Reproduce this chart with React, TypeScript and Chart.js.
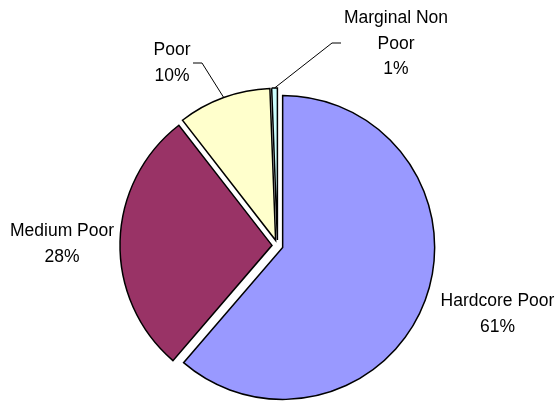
import React, { useEffect, useRef } from "react";
import { Chart, ArcElement, PieController } from "chart.js";

Chart.register(ArcElement, PieController);

// ---- data ----
const categories = ["Hardcore Poor", "Medium Poor", "Poor", "Marginal Non Poor"];
const shares = [61.3, 28.2, 9.9, 0.6];
const labelNameLines = [["Hardcore Poor"], ["Medium Poor"], ["Poor"], ["Marginal Non", "Poor"]];

// ---- style ----
const colors = ["#9999FF", "#993366", "#FFFFCC", "#CCFFFF"];
const EXPLODE = 5.5;
const FONT = '17.5px "Liberation Sans", Arial, sans-serif';
const LINE_GAP = 25.5;
// label text anchors: center x, first baseline y; leader: elbow points (null = none)
const labelPlacement = [
  { x: 497.5, y: 306, leader: null as null | number[][] },
  { x: 62, y: 236, leader: null as null | number[][] },
  { x: 172, y: 55, leader: [[193, 63], [202, 63]] },
  { x: 396, y: 23, leader: [[341, 43], [332, 43]] },
];

const explodePlugin = {
  id: "explode",
  afterDatasetUpdate(chart: any, args: any) {
    const meta = chart.getDatasetMeta(args.index);
    meta.data.forEach((arc: any) => {
      const mid = (arc.startAngle + arc.endAngle) / 2;
      arc.x += Math.cos(mid) * EXPLODE;
      arc.y += Math.sin(mid) * EXPLODE;
    });
  },
};

const labelPlugin = {
  id: "pieLabels",
  afterDraw(chart: any) {
    const ctx = chart.ctx;
    const meta = chart.getDatasetMeta(0);
    const total = shares.reduce((a, b) => a + b, 0);
    ctx.save();
    ctx.font = FONT;
    ctx.fillStyle = "#000";
    ctx.textAlign = "center";
    ctx.textBaseline = "alphabetic";
    meta.data.forEach((arc: any, i: number) => {
      const p = labelPlacement[i];
      const lines = [...labelNameLines[i], Math.round((shares[i] / total) * 100) + "%"];
      lines.forEach((t, k) => ctx.fillText(t, p.x, p.y + k * LINE_GAP));
      if (p.leader) {
        const mid = (arc.startAngle + arc.endAngle) / 2;
        const ex = arc.x + Math.cos(mid) * arc.outerRadius;
        const ey = arc.y + Math.sin(mid) * arc.outerRadius;
        ctx.beginPath();
        ctx.lineWidth = 1;
        ctx.strokeStyle = "#000";
        ctx.moveTo(p.leader[0][0], p.leader[0][1]);
        for (let k = 1; k < p.leader.length; k++) ctx.lineTo(p.leader[k][0], p.leader[k][1]);
        ctx.lineTo(ex, ey);
        ctx.stroke();
      }
    });
    ctx.restore();
  },
};

export default function App() {
  const ref = useRef<HTMLCanvasElement>(null);
  useEffect(() => {
    if (!ref.current) return;
    const chart = new Chart(ref.current, {
      type: "pie",
      data: {
        labels: categories,
        datasets: [
          {
            data: shares,
            backgroundColor: colors,
            borderColor: "#000",
            borderWidth: 1.5,
            borderJoinStyle: "miter",
            radius: 152,
          } as any,
        ],
      },
      options: {
        responsive: false,
        animation: false,
        devicePixelRatio: 1,
        layout: { padding: { left: 0, right: 5, top: 87, bottom: 0 } },
        plugins: { legend: { display: false }, tooltip: { enabled: false } },
        events: [],
      } as any,
      plugins: [explodePlugin, labelPlugin],
    });
    return () => chart.destroy();
  }, []);
  return (
    <div style={{ position: "absolute", left: 0, top: 0, width: 560, height: 404, background: "#fff" }}>
      <canvas ref={ref} width={560} height={404} />
    </div>
  );
}
